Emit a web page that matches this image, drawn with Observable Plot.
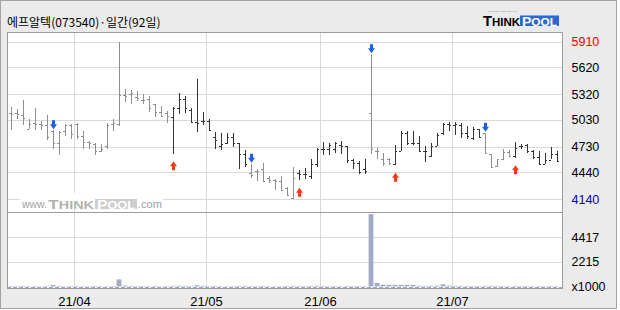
<!DOCTYPE html>
<html><head><meta charset="utf-8">
<script src="https://cdn.jsdelivr.net/npm/d3@7"></script>
<script src="https://cdn.jsdelivr.net/npm/@observablehq/plot@0.6"></script>
<style>
body{margin:0;background:#fff;}
#wrap{position:relative;width:620px;height:310px;overflow:hidden;background:#fff;}
#bg{position:absolute;left:0;top:0;width:617px;height:309px;box-sizing:border-box;border:1px solid #a3a3a3;background:#ebebeb;}
#title{position:absolute;left:7px;top:14px;font-size:12px;font-family:"Noto Sans CJK KR",sans-serif;line-height:16px;color:#000;white-space:nowrap;}
.chart{position:absolute;left:0;}
#logo{position:absolute;left:480px;top:10px;}
#wm{position:absolute;left:20px;top:193px;}
</style></head><body>
<div id="wrap">
  <div id="bg"></div>
  <div id="title">에프알텍(073540)·일간(92일)</div>
  <div id="c1" class="chart" style="top:0"></div>
  <div id="c2" class="chart" style="top:212px"></div>
  <svg id="logo" width="90" height="20" font-family="Liberation Sans, Arial, sans-serif" font-weight="bold">
    <text x="8" y="2.3" font-size="2.5" font-weight="normal" fill="#9a9a9a" textLength="30" lengthAdjust="spacingAndGlyphs">smart strategy</text>
    <text x="3" y="15.5" fill="#000" textLength="37" lengthAdjust="spacingAndGlyphs"><tspan font-size="14">T</tspan><tspan font-size="11">HINK</tspan></text>
    <rect x="40" y="5.5" width="39" height="10.5" fill="#2f68d4"></rect>
    <text x="42" y="15.5" fill="#fff" textLength="35" lengthAdjust="spacingAndGlyphs"><tspan font-size="13">P</tspan><tspan font-size="11">OOL</tspan></text>
  </svg>
  <svg id="wm" width="143" height="17" font-family="Liberation Sans, Arial, sans-serif">
    <rect x="0" y="0" width="143" height="17" fill="#fff"></rect>
    <text x="2" y="15" font-size="10" fill="#a0a0a0" textLength="25" lengthAdjust="spacingAndGlyphs">www.</text>
    <text x="28" y="15.5" font-weight="bold" fill="#b2b2b2" textLength="46" lengthAdjust="spacingAndGlyphs"><tspan font-size="13">T</tspan><tspan font-size="10.5">HINK</tspan></text>
    <rect x="75" y="6" width="42" height="10" fill="#cdcdcd"></rect>
    <text x="77" y="15.5" font-weight="bold" fill="#fff" textLength="38" lengthAdjust="spacingAndGlyphs"><tspan font-size="13">P</tspan><tspan font-size="10.5">OOL</tspan></text>
    <text x="118" y="15" font-size="10" fill="#a0a0a0" textLength="24" lengthAdjust="spacingAndGlyphs">.com</text>
  </svg>
</div>
<script>
// ---- data (daily OHLC, 92 sessions from 2021-03-17 to 2021-07-26) ----
const openP = [5110,5105,5081,4931,4991,4980,4969,4905,4766,4905,4969,4980,4849,4781,4755,4680,4736,4980,4980,5306,5318,5288,5254,
  5261,5205,5119,5111,5066,5168,5269,5141,5006,5018,5018,4838,4736,4766,4838,4766,4643,4436,4455,4474,4380,4354,4343,
  4268,4155,4436,4425,4399,4538,4699,4699,4699,4744,4736,4579,4549,4481,5111,4680,4594,4594,4530,4680,4886,4766,4766,
  4680,4624,4736,4886,4980,4969,4969,4886,4830,4924,4886,4643,4511,4586,4669,4624,4736,4744,4680,4616,4530,4579,4643];
const highP = [5175,5156,5254,5044,5168,5018,5085,4913,4905,4980,4980,4991,4905,4793,4766,4755,4991,5036,5906,5374,5366,5355,5318,
  5299,5205,5186,5130,5175,5329,5299,5168,5494,5119,5036,4894,4886,4879,4879,4766,4688,4538,4474,4541,4399,4361,4399,
  4275,4500,4463,4493,4586,4718,4781,4766,4781,4793,4736,4594,4568,4586,5768,4718,4661,4605,4744,4905,4905,4905,4849,
  4736,4766,4886,4991,5006,5006,4991,4961,4950,4931,4886,4643,4586,4699,4688,4781,4755,4755,4688,4680,4654,4725,4680];
const lowP = [4913,5044,4969,4924,4913,4913,4800,4706,4631,4849,4819,4819,4699,4699,4631,4669,4699,4905,4961,5231,5205,5243,5205,
  5119,5066,5063,4991,4650,5093,5111,4999,4898,4969,4913,4699,4688,4763,4725,4474,4504,4380,4343,4335,4324,4238,4238,
  4174,4144,4350,4369,4369,4500,4631,4631,4661,4650,4549,4481,4425,4418,4650,4594,4511,4519,4519,4680,4744,4744,4673,
  4556,4616,4736,4856,4905,4856,4830,4811,4800,4838,4643,4493,4504,4579,4616,4605,4699,4654,4594,4523,4530,4586,4556];
const closeP = [5100,5100,5048,4980,4980,4969,4841,4766,4894,4969,4868,4849,4781,4766,4680,4706,4969,4991,5306,5299,5329,5280,5254,
  5168,5119,5074,5074,5168,5269,5168,5006,4999,5018,4916,4804,4755,4838,4774,4650,4530,4406,4455,4343,4354,4343,4238,
  4181,4380,4425,4418,4538,4706,4706,4744,4766,4736,4579,4549,4444,4455,4699,4680,4549,4549,4680,4886,4766,4766,4680,
  4680,4736,4856,4980,4969,4980,4886,4849,4924,4838,4661,4504,4586,4669,4624,4718,4736,4680,4616,4530,4579,4643,4564];
// volume in thousands of shares
const volume = [45,38,52,35,48,30,42,130,55,40,36,44,38,33,47,41,35,50,640,
  90,60,45,40,38,52,36,33,48,70,55,42,120,
  60,45,50,38,36,44,58,62,48,40,55,37,35,42,46,60,52,44,58,66,48,42,40,38,52,45,40,44,
  6520,330,160,150,150,150,150,140,70,60,75,80,200,
  85,60,55,48,45,40,52,64,50,42,38,55,47,40,36,44,39,42,38];
// trading signals (session index)
const sellSignals = [7, 40, 60, 79];
const buySignals = [27, 48, 64, 84];
// month ticks: first session of each month
const monthStart = [11, 33, 52, 74];
const monthLabels = ["21/04", "21/05", "21/06", "21/07"];
// right-axis ticks
const priceTicks = [4140, 4440, 4730, 5030, 5320, 5620, 5910];
const volTicks = [0, 2215, 4417];
const volTickLabels = ["x1000", "2215", "4417"];

const DARK = "#343434", LIGHT = "#8e8e8e";
const N = openP.length;
const bars = d3.range(N).map(i => {
  const lastSell = d3.max(sellSignals.filter(s => s <= i)) ?? -1;
  const lastBuy = d3.max(buySignals.filter(s => s <= i)) ?? -1;
  return {i, o: openP[i], h: highP[i], l: lowP[i], c: closeP[i], v: volume[i],
          col: lastBuy > lastSell ? DARK : LIGHT};
});
const monthPos = monthStart.map(m => m - 0.5);
const xDomain = [-2/3, N - 1 + 5/6];
const AXF = '"Liberation Sans Narrow","Liberation Sans",Arial,sans-serif';
const GRID = "#d9d9d9", BORDER = "#9c9c9c";
const fmt = d => String(d);

const downArrow = {draw(c){c.moveTo(-1.5,-9);c.lineTo(1.5,-9);c.lineTo(1.5,-5);c.lineTo(3.5,-5);c.lineTo(0,0);c.lineTo(-3.5,-5);c.lineTo(-1.5,-5);c.closePath();}};
const upArrow = {draw(c){c.moveTo(-1.5,9);c.lineTo(1.5,9);c.lineTo(1.5,5);c.lineTo(3.5,5);c.lineTo(0,0);c.lineTo(-3.5,5);c.lineTo(-1.5,5);c.closePath();}};

const common = {width: 620, marginLeft: 7, marginRight: 58,
  style: {background: "transparent", fontFamily: AXF, fontSize: "12.5px", color: "#000", overflow: "visible"}};

const p1 = Plot.plot({
  ...common, height: 213, marginTop: 32, marginBottom: 1,
  x: {domain: xDomain, axis: null},
  y: {domain: [3994, 6019]},
  color: {type: "identity"},
  marks: [
    Plot.frame({fill: "white"}),
    Plot.ruleY(priceTicks, {stroke: GRID, shapeRendering: "crispEdges"}),
    Plot.ruleX(monthPos, {stroke: GRID, shapeRendering: "crispEdges"}),
    Plot.ruleX(bars, {x: "i", y1: "l", y2: "h", stroke: "col", shapeRendering: "crispEdges"}),
    Plot.ruleY(bars, {y: "o", x1: d => d.i - 0.4, x2: "i", stroke: "col", shapeRendering: "crispEdges"}),
    Plot.ruleY(bars, {y: "c", x1: "i", x2: d => d.i + 0.4, stroke: "col", shapeRendering: "crispEdges"}),
    Plot.dot(sellSignals, {x: d => d, y: d => highP[d], symbol: downArrow, fill: "#1b5fe2", stroke: "none", dy: -1.5}),
    Plot.dot(buySignals, {x: d => d, y: d => lowP[d], symbol: upArrow, fill: "#ea3f16", stroke: "none", dy: 7}),
    Plot.axisY(priceTicks.filter(t => t !== 5910 && t !== 4140), {anchor: "right", tickSize: 0, tickPadding: 9, label: null, fill: "#000", tickFormat: fmt}),
    Plot.axisY([5910], {anchor: "right", tickSize: 0, tickPadding: 9, label: null, fill: "#ee0000", tickFormat: fmt}),
    Plot.axisY([4140], {anchor: "right", tickSize: 0, tickPadding: 9, label: null, fill: "#0000cc", tickFormat: fmt}),
    Plot.frame({stroke: BORDER, shapeRendering: "crispEdges"})
  ]
});
document.getElementById("c1").appendChild(p1);

const p2 = Plot.plot({
  ...common, height: 98, marginTop: 0, marginBottom: 22,
  x: {domain: xDomain},
  y: {domain: [-135, 6712]},
  marks: [
    Plot.frame({fill: "white"}),
    Plot.ruleY(volTicks.slice(1), {stroke: GRID, shapeRendering: "crispEdges"}),
    Plot.ruleX(monthPos, {stroke: GRID, shapeRendering: "crispEdges"}),
    Plot.ruleY([0], {stroke: "#9ea6c0", strokeDasharray: "4,2", shapeRendering: "crispEdges"}),
    Plot.rectY(bars, {x1: d => d.i - 0.4, x2: d => d.i + 0.4, y: "v", fill: "#a3aac3"}),
    Plot.axisY(volTicks, {anchor: "right", tickSize: 0, tickPadding: 9, label: null, fill: "#000",
      tickFormat: d => volTickLabels[volTicks.indexOf(d)]}),
    Plot.axisX(monthPos, {anchor: "bottom", tickSize: 0, tickPadding: 8, label: null, fill: "#000", fontSize: 13,
      tickFormat: d => monthLabels[monthPos.indexOf(d)]}),
    Plot.frame({stroke: BORDER, shapeRendering: "crispEdges"})
  ]
});
document.getElementById("c2").appendChild(p2);
</script>
</body></html>
